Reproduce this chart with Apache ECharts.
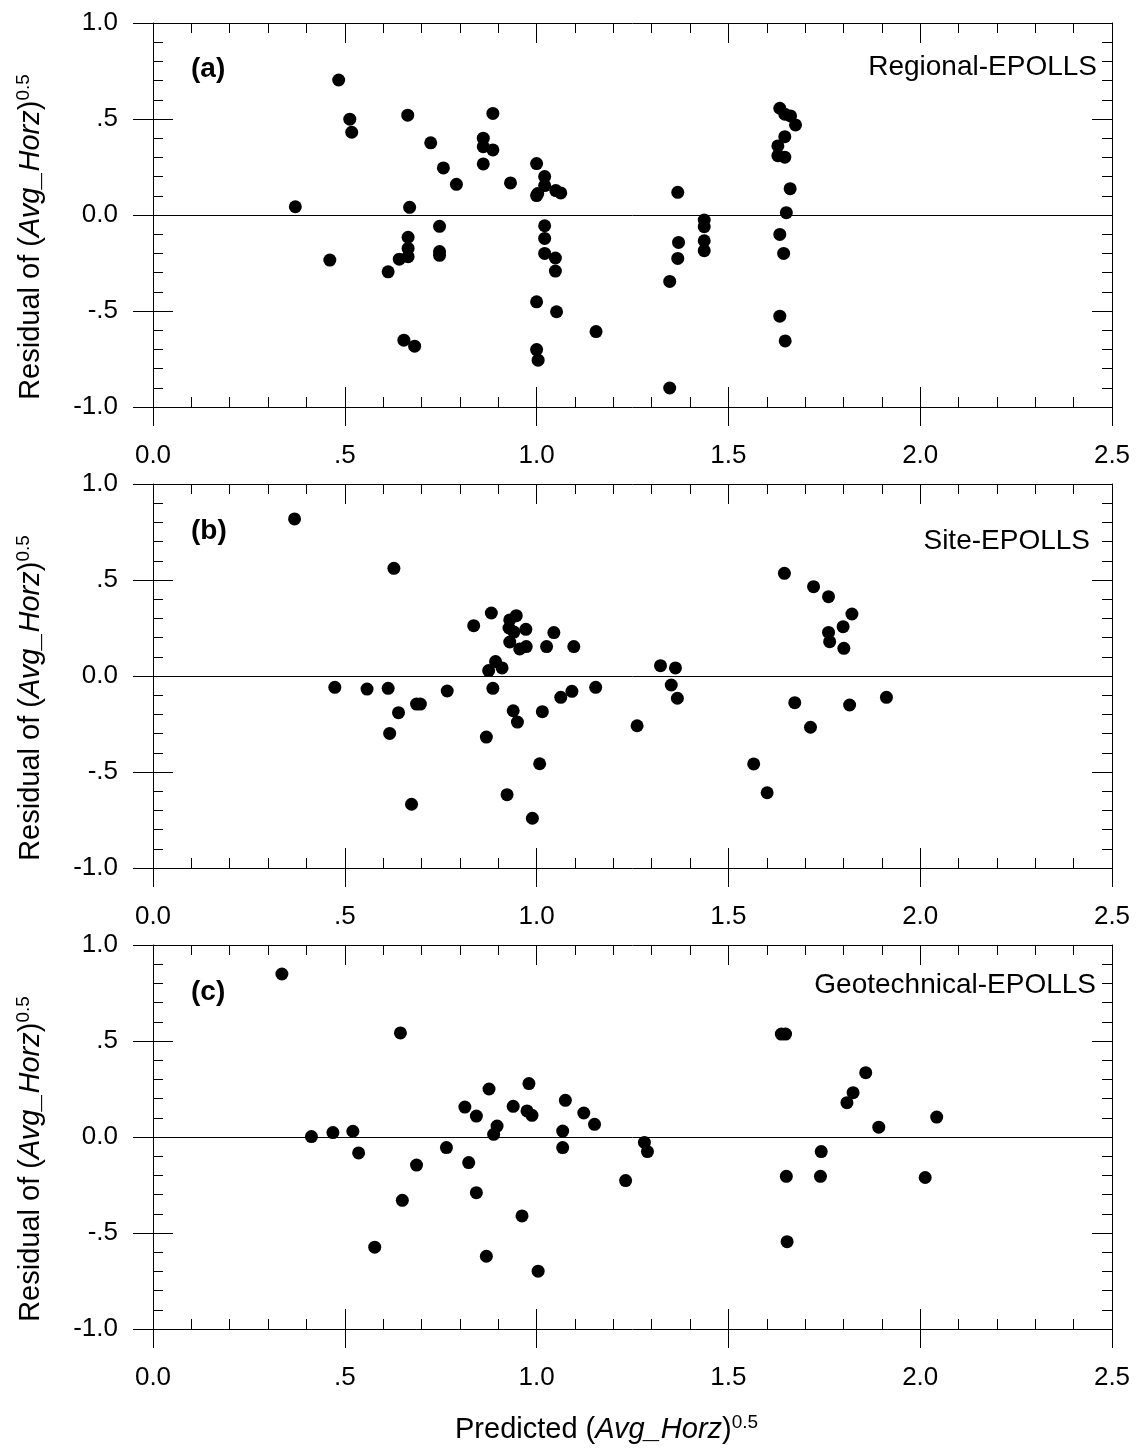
<!DOCTYPE html>
<html>
<head>
<meta charset="utf-8">
<script src="https://cdn.jsdelivr.net/npm/echarts@6/dist/echarts.min.js"></script>
<style>
html,body{margin:0;padding:0;background:#fff;}
#chart{width:1141px;height:1454px;}
</style>
</head>
<body>
<div id="chart"></div>
<script>
// ---- data (x = predicted, y = residual) ----
const regionalPts = [[0.371,0.043],[0.484,0.703],[0.513,0.499],[0.518,0.431],[0.461,-0.235],[0.664,0.520],[0.724,0.376],[0.757,0.245],[0.791,0.160],[0.669,0.040],[0.747,-0.059],[0.665,-0.116],[0.665,-0.174],[0.665,-0.217],[0.642,-0.230],[0.747,-0.190],[0.747,-0.210],[0.613,-0.296],[0.654,-0.652],[0.682,-0.683],
[0.861,0.400],[0.861,0.356],[0.886,0.339],[0.861,0.266],[0.886,0.529],[0.932,0.167],[1.000,0.268],[1.021,0.200],[1.021,0.153],[1.000,0.101],[1.003,0.112],[1.050,0.127],[1.063,0.115],[1.021,-0.056],[1.021,-0.122],[1.021,-0.200],[1.049,-0.224],[1.049,-0.292],[1.000,-0.452],[1.052,-0.504],[1.155,-0.607],[1.000,-0.701],[1.004,-0.756],
[1.368,0.118],[1.370,-0.143],[1.368,-0.226],[1.347,-0.346],[1.347,-0.901],[1.437,-0.026],[1.437,-0.061],[1.437,-0.134],[1.437,-0.186],
[1.634,0.556],[1.647,0.525],[1.662,0.516],[1.675,0.469],[1.647,0.408],[1.629,0.360],[1.629,0.309],[1.647,0.301],[1.661,0.137],[1.651,0.012],[1.634,-0.101],[1.644,-0.200],[1.634,-0.527],[1.648,-0.656]];

const sitePts = [[0.369,0.818],[0.628,0.561],[0.836,0.262],[0.474,-0.059],[0.558,-0.068],[0.613,-0.064],[0.767,-0.078],[0.687,-0.146],[0.697,-0.146],[0.640,-0.191],[0.617,-0.299],[0.674,-0.668],
[0.882,0.328],[0.930,0.292],[0.947,0.314],[0.928,0.250],[0.941,0.229],[0.972,0.243],[0.930,0.177],[0.956,0.141],[0.973,0.153],[1.026,0.153],[1.045,0.226],[1.097,0.153],[0.893,0.075],[0.910,0.042],[0.875,0.028],[0.886,-0.064],[1.154,-0.059],[1.092,-0.080],[1.063,-0.111],[0.939,-0.181],[1.015,-0.186],[0.950,-0.240],[0.869,-0.318],[1.008,-0.457],[0.923,-0.618],[0.989,-0.741],
[1.323,0.054],[1.362,0.042],[1.351,-0.047],[1.367,-0.116],[1.262,-0.259],[1.646,0.535],[1.566,-0.458],[1.601,-0.608],[1.673,-0.139],[1.722,0.465],[1.761,0.413],[1.822,0.323],[1.799,0.257],[1.761,0.227],[1.764,0.179],[1.801,0.144],[1.714,-0.267],[1.816,-0.151],[1.912,-0.111]];

const geotechPts = [[0.336,0.849],[0.645,0.542],[0.413,0.002],[0.469,0.023],[0.521,0.030],[0.536,-0.083],[0.687,-0.146],[0.765,-0.055],[0.813,0.156],[0.843,0.109],[0.823,-0.133],[0.843,-0.290],[0.650,-0.330],[0.578,-0.574],
[0.876,0.250],[0.980,0.278],[0.939,0.160],[0.975,0.136],[0.988,0.113],[1.075,0.191],[1.123,0.125],[1.151,0.066],[0.897,0.057],[0.888,0.014],[1.068,0.031],[1.068,-0.055],[1.281,-0.028],[1.289,-0.076],[1.232,-0.227],[0.962,-0.411],[0.869,-0.621],[1.004,-0.699],
[1.638,0.536],[1.649,0.536],[1.651,-0.205],[1.653,-0.545],[1.858,0.335],[1.825,0.231],[1.809,0.179],[1.892,0.051],[2.043,0.104],[1.742,-0.076],[1.740,-0.205],[2.013,-0.211]];

const panelTags = ['(a)','(b)','(c)'];
const panelNames = ['Regional-EPOLLS','Site-EPOLLS','Geotechnical-EPOLLS'];
const xTickValues = [0,0.5,1,1.5,2,2.5];
const xTickLabels = ['0.0','.5','1.0','1.5','2.0','2.5'];
const yTickValues = [-1,-0.5,0,0.5,1];
const yTickLabels = ['-1.0','-.5','0.0','.5','1.0'];

// ---- layout ----
const FONT = "'Liberation Sans', Arial, Helvetica, sans-serif";
const gridTops = [23, 484, 945];
const gridH = 384;
const gridLeft = 153;
const gridW = 959;
const allPts = [regionalPts, sitePts, geotechPts];

function fmt(vals, labs){
  return function(v){
    for (let i=0;i<vals.length;i++){ if (Math.abs(vals[i]-v)<1e-6) return labs[i]; }
    return '';
  };
}

const grids=[], xAxes=[], yAxes=[], series=[], graphics=[];
const lineC = '#000';
const richTitle = {
  n:{fontSize:29,fontFamily:FONT,color:'#000'},
  i:{fontSize:29,fontFamily:FONT,fontStyle:'italic',color:'#000'},
  s:{fontSize:19,fontFamily:FONT,color:'#000',verticalAlign:'top',padding:[0,0,14,0]}
};

for (let g=0; g<3; g++){
  grids.push({left:gridLeft, top:gridTops[g], width:gridW, height:gridH});
  const xBase = {gridIndex:g, type:'value', min:0, max:2.5, interval:0.5, splitLine:{show:false}};
  const yBase = {gridIndex:g, type:'value', min:-1, max:1, interval:0.5, splitLine:{show:false}};
  // bottom with labels and outside major ticks
  xAxes.push(Object.assign({}, xBase, {position:'bottom',
    axisLine:{show:true,onZero:false,lineStyle:{color:lineC,width:1}},
    axisTick:{show:true,inside:false,length:19,lineStyle:{color:lineC,width:1}},
    minorTick:{show:false},
    axisLabel:{show:true,margin:36,fontSize:26,fontFamily:FONT,color:'#000',formatter:fmt(xTickValues,xTickLabels)}}));
  // bottom inside ticks
  xAxes.push(Object.assign({}, xBase, {position:'bottom',
    axisLine:{show:false,onZero:false},
    axisTick:{show:true,inside:true,length:20,lineStyle:{color:lineC,width:1}},
    minorTick:{show:true,splitNumber:5,length:10,lineStyle:{color:lineC,width:1}},
    axisLabel:{show:false}}));
  // top inside ticks
  xAxes.push(Object.assign({}, xBase, {position:'top',
    axisLine:{show:true,onZero:false,lineStyle:{color:lineC,width:1}},
    axisTick:{show:true,inside:true,length:20,lineStyle:{color:lineC,width:1}},
    minorTick:{show:true,splitNumber:5,length:10,lineStyle:{color:lineC,width:1}},
    axisLabel:{show:false}}));
  // left with labels, outside ticks, name
  yAxes.push(Object.assign({}, yBase, {position:'left',
    axisLine:{show:true,onZero:false,lineStyle:{color:lineC,width:1}},
    axisTick:{show:true,inside:false,length:20,lineStyle:{color:lineC,width:1}},
    minorTick:{show:false},
    axisLabel:{show:true,margin:35,fontSize:26,fontFamily:FONT,color:'#000',formatter:fmt(yTickValues,yTickLabels)},
    name:'{n|Residual of (}{i|Avg_Horz}{n|)}{s|0.5}',
    nameLocation:'middle', nameRotate:90, nameGap:106,
    nameTextStyle:{rich:richTitle, padding:[0,44,0,0]}}));
  // left inside ticks
  yAxes.push(Object.assign({}, yBase, {position:'left',
    axisLine:{show:false,onZero:false},
    axisTick:{show:true,inside:true,length:20,lineStyle:{color:lineC,width:1}},
    minorTick:{show:true,splitNumber:5,length:10,lineStyle:{color:lineC,width:1}},
    axisLabel:{show:false}}));
  // right inside ticks
  yAxes.push(Object.assign({}, yBase, {position:'right',
    axisLine:{show:true,onZero:false,lineStyle:{color:lineC,width:1}},
    axisTick:{show:true,inside:true,length:20,lineStyle:{color:lineC,width:1}},
    minorTick:{show:true,splitNumber:5,length:10,lineStyle:{color:lineC,width:1}},
    axisLabel:{show:false}}));

  series.push({
    type:'scatter', xAxisIndex:3*g, yAxisIndex:3*g,
    data: allPts[g], symbol:'circle', symbolSize:13,
    itemStyle:{color:'#000', opacity:1},
    silent:true,
    markLine:{silent:true, symbol:['none','none'], label:{show:false},
      lineStyle:{color:'#000',width:1,type:'solid'}, animation:false,
      data:[{yAxis:0}]}
  });
}

const tagY = [69, 531, 992];
const nameY = [67, 541, 985];
const nameRight = [1097, 1090, 1096];
for (let g=0; g<3; g++){
  graphics.push({type:'text', x:191, y:tagY[g], style:{text:panelTags[g], fill:'#000', font:"bold 28px "+FONT, textAlign:'left', textVerticalAlign:'middle'}});
  graphics.push({type:'text', x:nameRight[g], y:nameY[g], style:{text:panelNames[g], fill:'#000', font:"28px "+FONT, textAlign:'right', textVerticalAlign:'middle'}});
}
graphics.push({type:'text', x:455, y:1430, style:{
  text:'{n|Predicted (}{i|Avg_Horz}{n|)}{s|0.5}', rich:richTitle, textAlign:'left', textVerticalAlign:'middle'}});

const chart = echarts.init(document.getElementById('chart'), null, {renderer:'canvas'});
chart.setOption({
  animation:false,
  backgroundColor:'#fff',
  grid:grids, xAxis:xAxes, yAxis:yAxes, series:series, graphic:graphics
});
</script>
</body>
</html>
